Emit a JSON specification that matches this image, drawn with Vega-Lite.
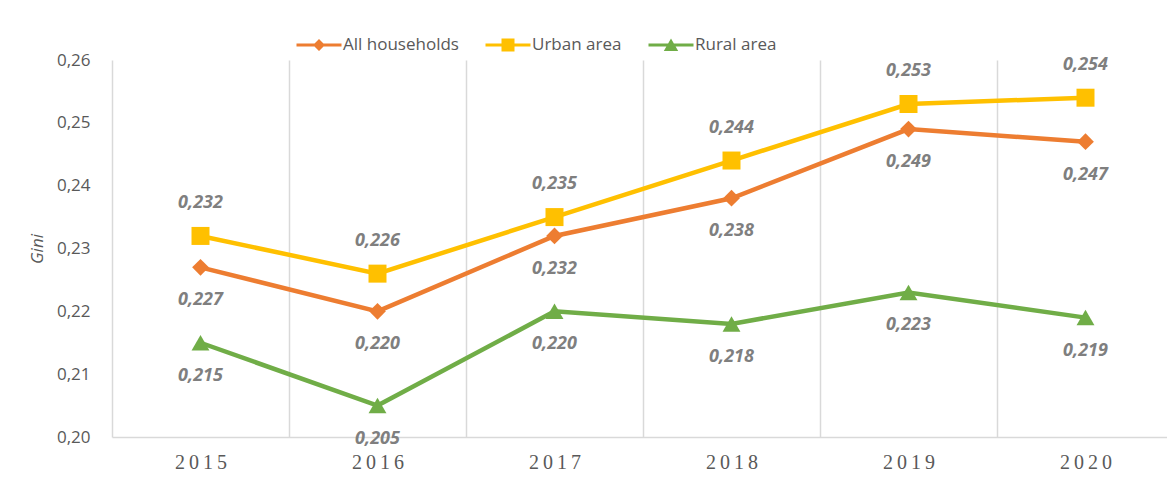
{
  "$schema": "https://vega.github.io/schema/vega-lite/v6.json",
  "width": 1055,
  "height": 377,
  "autosize": "none",
  "padding": {"left": 112, "top": 60, "right": 0, "bottom": 41},
  "config": {
    "locale": {"number": {"decimal": ",", "thousands": ".", "grouping": [3], "currency": ["", " €"]}},
    "view": {"stroke": null},
    "font": "Open Sans"
  },
  "data": {
    "values": [
      {"year": "2015", "series": "All households", "gini": 0.227},
      {"year": "2015", "series": "Urban area", "gini": 0.232},
      {"year": "2015", "series": "Rural area", "gini": 0.215},
      {"year": "2016", "series": "All households", "gini": 0.220},
      {"year": "2016", "series": "Urban area", "gini": 0.226},
      {"year": "2016", "series": "Rural area", "gini": 0.205},
      {"year": "2017", "series": "All households", "gini": 0.232},
      {"year": "2017", "series": "Urban area", "gini": 0.235},
      {"year": "2017", "series": "Rural area", "gini": 0.220},
      {"year": "2018", "series": "All households", "gini": 0.238},
      {"year": "2018", "series": "Urban area", "gini": 0.244},
      {"year": "2018", "series": "Rural area", "gini": 0.218},
      {"year": "2019", "series": "All households", "gini": 0.249},
      {"year": "2019", "series": "Urban area", "gini": 0.253},
      {"year": "2019", "series": "Rural area", "gini": 0.223},
      {"year": "2020", "series": "All households", "gini": 0.247},
      {"year": "2020", "series": "Urban area", "gini": 0.254},
      {"year": "2020", "series": "Rural area", "gini": 0.219}
    ]
  },
  "encoding": {
    "x": {
      "field": "year",
      "type": "ordinal",
      "bandPosition": 0.5,
      "scale": {"type": "band", "paddingInner": 0, "paddingOuter": 0, "range": [0, 1062]},
      "axis": {
        "title": null,
        "labelAngle": 0,
        "grid": true,
        "gridColor": "#d9d9d9",
        "gridWidth": 1.5,
        "tickBand": "extent",
        "ticks": false,
        "domainColor": "#d9d9d9",
        "domainWidth": 1.5,
        "labelFont": "Liberation Serif",
        "labelFontSize": 20,
        "labelColor": "#595959",
        "labelPadding": 15,
        "labelExpr": "join(split(datum.label, ''), '\u2009')"
      }
    },
    "y": {
      "field": "gini",
      "type": "quantitative",
      "scale": {"domain": [0.2, 0.26], "zero": false, "nice": false},
      "axis": {
        "values": [0.2, 0.21, 0.22, 0.23, 0.24, 0.25, 0.26],
        "format": ".2f",
        "grid": false,
        "ticks": false,
        "domain": false,
        "labelPadding": 22,
        "labelFontSize": 17,
        "labelColor": "#595959",
        "title": "Gini",
        "titleFont": "Open Sans",
        "titleFontStyle": "italic",
        "titleFontWeight": "normal",
        "titleFontSize": 17,
        "titleColor": "#595959",
        "titlePadding": 10
      }
    },
    "color": {
      "field": "series",
      "type": "nominal",
      "scale": {"domain": ["All households", "Urban area", "Rural area"], "range": ["#ED7D31", "#FFC000", "#70AD47"]},
      "legend": {
        "orient": "none",
        "legendX": 197,
        "legendY": -25,
        "direction": "horizontal",
        "title": null,
        "padding": 0,
        "labelFontSize": 17,
        "labelColor": "#595959",
        "symbolSize": 400,
        "symbolOpacity": 1,
        "symbolStrokeWidth": 0,
        "labelOffset": 14,
        "columnPadding": 26
      }
    }
  },
  "layer": [
    {
      "mark": {"type": "line", "strokeWidth": 4.5}
    },
    {
      "mark": {"type": "point", "filled": true, "opacity": 0},
      "encoding": {
        "shape": {
          "field": "series",
          "type": "nominal",
          "scale": {
            "domain": ["All households", "Urban area", "Rural area"],
            "range": [
              "M-2.25,-0.15H2.25V0.15H-2.25Z M0,-0.6L0.6,0L0,0.6L-0.6,0Z",
              "M-2.25,-0.15H2.25V0.15H-2.25Z M-0.65,-0.65H0.65V0.65H-0.65Z",
              "M-2.25,-0.15H2.25V0.15H-2.25Z M0,-0.65L0.72,0.6H-0.72Z"
            ]
          },
          "legend": null
        }
      }
    },
    {
      "transform": [{"filter": "datum.series === 'All households'"}],
      "mark": {"type": "point", "filled": true, "opacity": 1, "shape": "diamond", "size": 280}
    },
    {
      "transform": [{"filter": "datum.series === 'Urban area'"}],
      "mark": {"type": "point", "filled": true, "opacity": 1, "shape": "square", "size": 324}
    },
    {
      "transform": [{"filter": "datum.series === 'Rural area'"}],
      "mark": {"type": "point", "filled": true, "opacity": 1, "shape": "triangle-up", "size": 320}
    },
    {
      "transform": [{"filter": "datum.series === 'Urban area'"}],
      "mark": {"type": "text", "dy": -33, "fontSize": 18, "fontWeight": "bold", "fontStyle": "italic"},
      "encoding": {
        "text": {"field": "gini", "type": "quantitative", "format": ".3f"},
        "color": {"value": "#7f7f7f"}
      }
    },
    {
      "transform": [{"filter": "datum.series !== 'Urban area'"}],
      "mark": {"type": "text", "dy": 33, "fontSize": 18, "fontWeight": "bold", "fontStyle": "italic"},
      "encoding": {
        "text": {"field": "gini", "type": "quantitative", "format": ".3f"},
        "color": {"value": "#7f7f7f"}
      }
    }
  ]
}
